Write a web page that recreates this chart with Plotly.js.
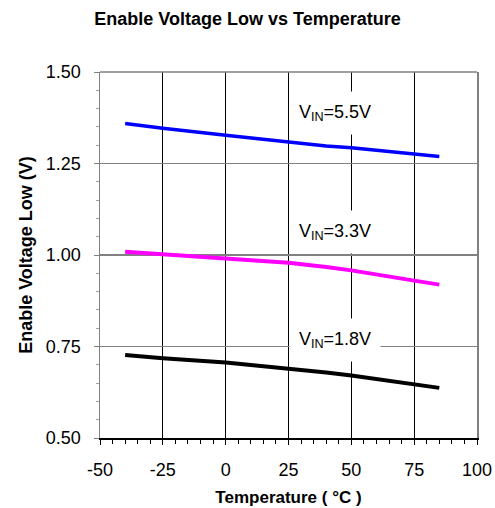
<!DOCTYPE html>
<html>
<head>
<meta charset="utf-8">
<script src="https://cdn.plot.ly/plotly-3.0.1.min.js"></script>
<style>html,body{margin:0;padding:0;background:#fff;}#chart{width:495px;height:508px;}</style>
</head>
<body>
<div id="chart"></div>
<script>
const temps = [-40, -25, 0, 25, 40, 50, 75, 85];
const vin55 = [1.359, 1.346, 1.327, 1.308, 1.298, 1.293, 1.276, 1.269];
const vin33 = [1.009, 1.002, 0.991, 0.979, 0.967, 0.958, 0.930, 0.919];
const vin18 = [0.727, 0.718, 0.706, 0.690, 0.679, 0.671, 0.647, 0.637];
const xTickVals = [-50, -25, 0, 25, 50, 75, 100];
const xTickText = ['-50', '-25', '0', '25', '50', '75', '100'];
const yTickVals = [0.5, 0.75, 1.0, 1.25, 1.5];
const yTickText = ['0.50', '0.75', '1.00', '1.25', '1.50'];
const labels = ["V<sub>IN</sub>=5.5V", "V<sub>IN</sub>=3.3V", "V<sub>IN</sub>=1.8V"];
const labelX = [43.5, 43.5, 43.5];
const labelY = [1.387, 1.064, 0.768];

const FONT = 'Liberation Sans, Arial, sans-serif';
const series = [
  {y: vin55, color: '#0000FF', width: 3.5},
  {y: vin33, color: '#FF00FF', width: 4},
  {y: vin18, color: '#000000', width: 4}
];
const data = series.map(s => ({
  x: temps, y: s.y, type: 'scatter', mode: 'lines',
  line: {color: s.color, width: s.width}, showlegend: false, hoverinfo: 'skip'
}));

const annotations = labels.map((t, i) => ({
  x: labelX[i], y: labelY[i], xref: 'x', yref: 'y', text: t, showarrow: false,
  bgcolor: '#FFFFFF', width: 90, height: 42, borderpad: 0,
  font: {family: FONT, size: 18, color: '#000'}
}));

const layout = {
  width: 495, height: 508,
  margin: {l: 100, r: 18, t: 72, b: 70},
  paper_bgcolor: '#fff', plot_bgcolor: '#fff',
  font: {family: FONT, color: '#000'},
  title: {text: '<b>Enable Voltage Low vs Temperature</b>', x: 0.5, xanchor: 'center', y: 0.964, yanchor: 'middle',
          font: {size: 18, family: FONT, color: '#000'}},
  xaxis: {
    range: [-50, 100], tickmode: 'array', tickvals: xTickVals, ticktext: xTickText,
    showgrid: true, gridcolor: '#000', gridwidth: 1, zeroline: false,
    showline: true, linecolor: '#000', linewidth: 1.5,
    ticks: 'outside', ticklen: 5, tickcolor: '#000', tickwidth: 1, ticklabelstandoff: 10,
    minor: {dtick: 5, tick0: -50, ticks: 'outside', ticklen: 4, tickcolor: '#000', showgrid: false},
    tickfont: {size: 18}, fixedrange: true,
    title: {text: '<b>Temperature ( °C )</b>', font: {size: 17}, standoff: 12}
  },
  yaxis: {
    range: [0.5, 1.5], tickmode: 'array', tickvals: yTickVals, ticktext: yTickText,
    showgrid: true, gridcolor: '#808080', gridwidth: 1.5, zeroline: false,
    showline: true, linecolor: '#808080', linewidth: 1.5, mirror: true,
    ticks: 'outside', ticklen: 5, tickcolor: '#808080', tickwidth: 1, ticklabelstandoff: 9,
    minor: {dtick: 0.05, tick0: 0.5, ticks: 'outside', ticklen: 3, tickcolor: '#a0a0a0', showgrid: false},
    tickfont: {size: 18}, fixedrange: true,
    title: {text: '<b>Enable Voltage Low (V)</b>', font: {size: 18}, standoff: 8}
  },
  shapes: [
    {type: 'line', xref: 'paper', yref: 'paper', x0: 0, x1: 1, y0: 1, y1: 1,
     line: {color: '#808080', width: 1.5}, layer: 'above'}
  ],
  annotations: annotations
};

Plotly.newPlot('chart', data, layout, {staticPlot: true, displayModeBar: false});
</script>
</body>
</html>
